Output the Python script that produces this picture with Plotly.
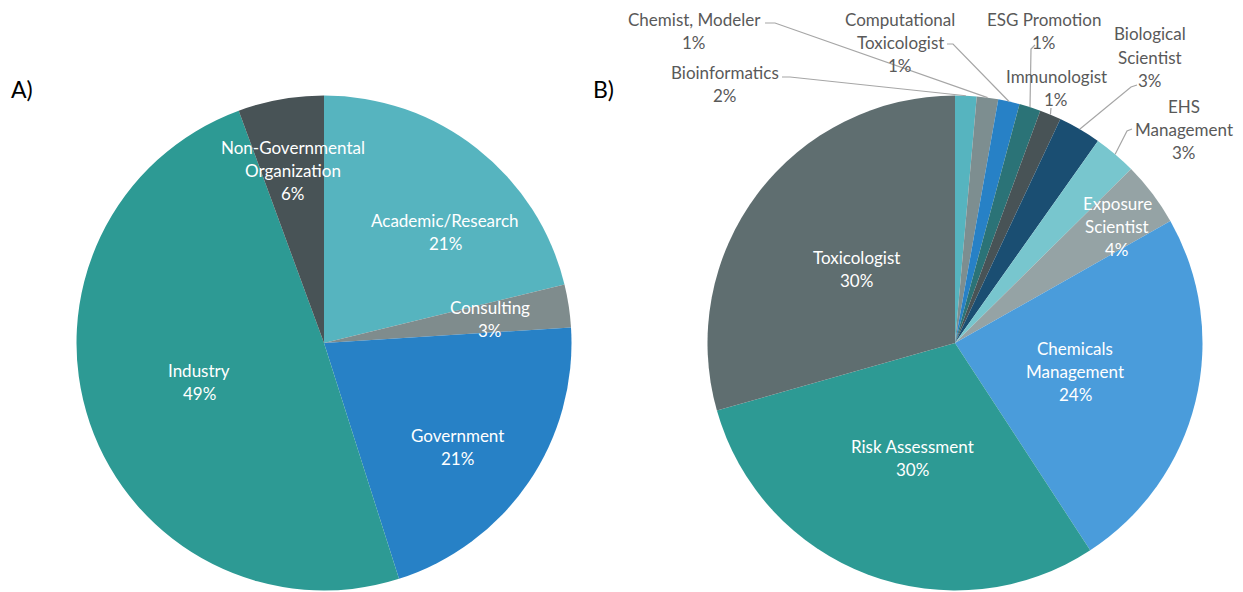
import math
import plotly.graph_objects as go

# ---------------- data ----------------
labels_a = ["Academic/Research", "Consulting", "Government", "Industry",
            "Non-Governmental Organization"]
values_a = [21.2, 2.8, 21.1, 49.3, 5.6]
pct_a = ["21%", "3%", "21%", "49%", "6%"]

labels_b = ["Bioinformatics", "Chemist, Modeler", "Computational Toxicologist",
            "ESG Promotion", "Immunologist", "Biological Scientist",
            "EHS Management", "Exposure Scientist", "Chemicals Management",
            "Risk Assessment", "Toxicologist"]
values_b = [1.4, 1.4, 1.4, 1.4, 1.4, 2.8, 2.8, 4.2, 24.0, 29.8, 29.4]
pct_b = ["2%", "1%", "1%", "1%", "1%", "3%", "3%", "4%", "24%", "30%", "30%"]

# ---------------- style ----------------
OFF = 8                      # page body margin
W, H = 1243 - OFF, 592 - OFF  # figure size
R = 247.5
CA = (324, 343)
CB = (955, 343)
FONT = "Lato"
FS = 17
LINE_GAP = 23
TXT_DARK = "#595959"
LEADER = "#A6A6A6"

colors_a = ["#56B4BF", "#7F8C8D", "#2781C6", "#2D9A94", "#485356"]
colors_b = ["#56B4BF", "#7D8E90", "#2781C6", "#2B7377", "#485356", "#1A4E72",
            "#78C6CE", "#95A3A5", "#4A9CDB", "#2D9A94", "#5F6E70"]

# label line breaks (display) and first-line positions (screen px)
disp_a = {
    "Academic/Research": ("Academic/Research", 445, 220, "in"),
    "Consulting": ("Consulting", 490, 307, "in"),
    "Government": ("Government", 457, 435, "in"),
    "Industry": ("Industry", 199, 370, "in"),
    "Non-Governmental Organization": ("Non-Governmental<br>Organization", 293, 147, "in"),
}
disp_b = {
    "Bioinformatics": ("Bioinformatics", 725, 73, "out"),
    "Chemist, Modeler": ("Chemist, Modeler", 694, 19, "out"),
    "Computational Toxicologist": ("Computational<br>Toxicologist", 900, 19, "out"),
    "ESG Promotion": ("ESG Promotion", 1044, 19, "out"),
    "Immunologist": ("Immunologist", 1056, 76, "out"),
    "Biological Scientist": ("Biological<br>Scientist", 1150, 34, "out"),
    "EHS Management": ("EHS<br>Management", 1184, 106, "out"),
    "Exposure Scientist": ("Exposure<br>Scientist", 1117, 203, "in"),
    "Chemicals Management": ("Chemicals<br>Management", 1075, 348, "in"),
    "Risk Assessment": ("Risk Assessment", 912, 446, "in"),
    "Toxicologist": ("Toxicologist", 856, 257, "in"),
}
# leader line start points (screen px), ending at the slice's outer edge
leader_start = {
    "Bioinformatics": [(782, 77), (790, 77)],
    "Chemist, Modeler": [(765, 23), (775, 23)],
    "Computational Toxicologist": [(947, 44), (953, 44)],
    "ESG Promotion": [(1035, 45), (1031, 49)],
    "Immunologist": [(1051, 108)],
    "Biological Scientist": [(1137, 85), (1131, 87)],
    "EHS Management": [(1132, 129), (1127, 131)],
}


def px(x):
    return (x - OFF) / W


def py(y):
    return 1 - (y - OFF) / H


def domain(c):
    return dict(x=[px(c[0] - R), px(c[0] + R)], y=[py(c[1] + R), py(c[1] - R)])


fig = go.Figure()
fig.add_trace(go.Pie(labels=labels_a, values=values_a, sort=False,
                     direction="clockwise", rotation=0,
                     marker=dict(colors=colors_a, line=dict(width=0)),
                     textinfo="none", hoverinfo="label+percent",
                     showlegend=False, domain=domain(CA)))
fig.add_trace(go.Pie(labels=labels_b, values=values_b, sort=False,
                     direction="clockwise", rotation=0,
                     marker=dict(colors=colors_b, line=dict(width=0)),
                     textinfo="none", hoverinfo="label+percent",
                     showlegend=False, domain=domain(CB)))

annotations = []
shapes = []


def add_block(text_lines, x, y0, color):
    for i, t in enumerate(text_lines):
        annotations.append(dict(
            x=px(x), y=py(y0 + i * LINE_GAP), xref="paper", yref="paper",
            text=t, showarrow=False, xanchor="center", yanchor="middle",
            font=dict(family=FONT, size=FS, color=color)))


def edge_point(center, labels, values, name):
    tot = sum(values)
    cum = 0
    for lab, v in zip(labels, values):
        if lab == name:
            mid = (cum + v / 2) / tot * 2 * math.pi
            return (center[0] + R * math.sin(mid), center[1] - R * math.cos(mid))
        cum += v
    return None


for lab, pct in zip(labels_a, pct_a):
    d, x, y, kind = disp_a[lab]
    add_block(d.split("<br>") + [pct], x, y, "white")

for lab, pct in zip(labels_b, pct_b):
    d, x, y, kind = disp_b[lab]
    add_block(d.split("<br>") + [pct], x, y, "white" if kind == "in" else TXT_DARK)
    if kind == "out":
        pts = leader_start[lab] + [edge_point(CB, labels_b, values_b, lab)]
        path = "M " + " L ".join(f"{px(a):.5f},{py(b):.5f}" for a, b in pts)
        shapes.append(dict(type="path", path=path, xref="paper", yref="paper",
                           line=dict(color=LEADER, width=1.2)))

for t, x, y in [("A)", 22, 89), ("B)", 603, 89)]:
    annotations.append(dict(x=px(x), y=py(y), xref="paper", yref="paper",
                            text=t, showarrow=False, xanchor="center",
                            yanchor="middle",
                            font=dict(family=FONT, size=23, color="black")))

fig.update_layout(width=W, height=H, margin=dict(l=0, r=0, t=0, b=0),
                  paper_bgcolor="white", plot_bgcolor="white",
                  annotations=annotations, shapes=shapes)

fig.write_html("out.html")
